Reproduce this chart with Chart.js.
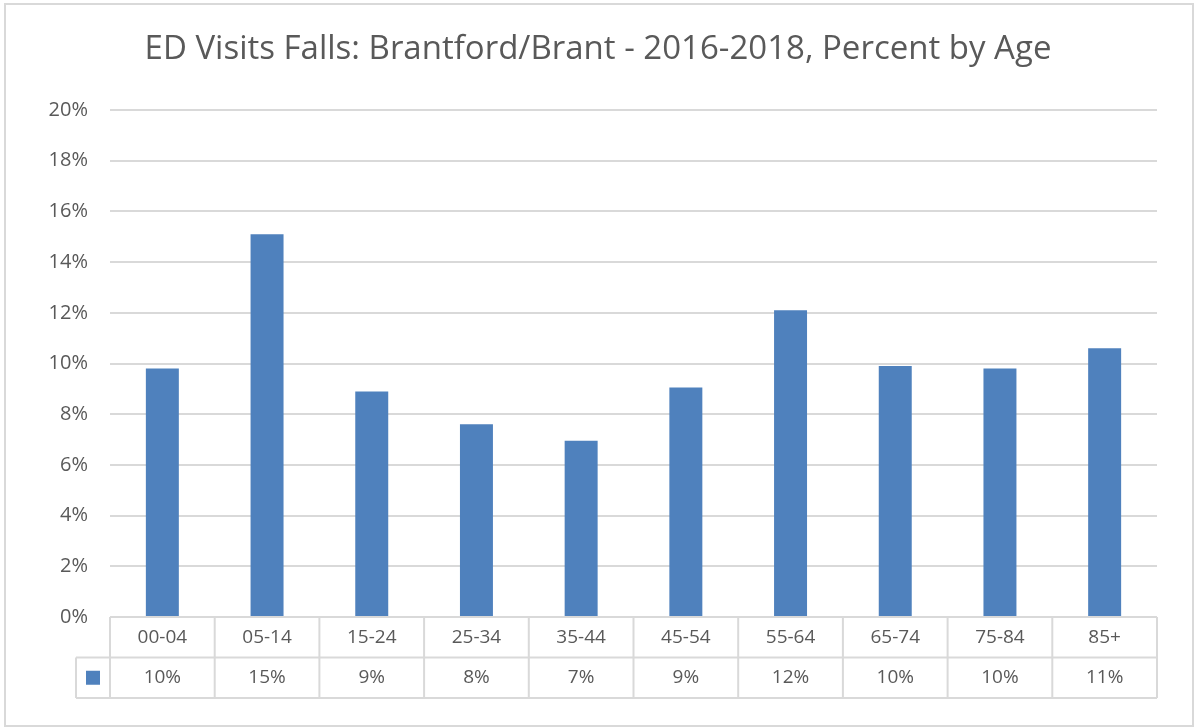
<!DOCTYPE html>
<html>
<head>
<meta charset="utf-8">
<script src="https://cdn.jsdelivr.net/npm/chart.js@4/dist/chart.umd.min.js"></script>
<style>
  html, body { margin: 0; padding: 0; background: #ffffff; }
  #wrap { width: 1196px; height: 727px; }
</style>
</head>
<body>
<div id="wrap"><canvas id="c" width="1196" height="727"></canvas></div>
<script>
const titleText = 'ED Visits Falls: Brantford/Brant - 2016-2018, Percent by Age';
const categories = ['00-04', '05-14', '15-24', '25-34', '35-44', '45-54', '55-64', '65-74', '75-84', '85+'];
const values = [9.8, 15.1, 8.9, 7.6, 6.95, 9.05, 12.1, 9.9, 9.8, 10.6];
const tableLabels = ['10%', '15%', '9%', '8%', '7%', '9%', '12%', '10%', '10%', '11%'];
const yTicks = [0, 2, 4, 6, 8, 10, 12, 14, 16, 18, 20];

const barColor = '#4F81BD';
const gridColor = '#D9D9D9';
const textColor = '#595959';
const FONT = "'Open Sans', 'DejaVu Sans', sans-serif";

const ROW_H = 40.5;
const KEY_LEFT = 76;

const tablePlugin = {
  id: 'dataTable',
  beforeDraw(chart) {
    const ctx = chart.ctx;
    ctx.save();
    ctx.strokeStyle = gridColor;
    ctx.lineWidth = 2;
    ctx.strokeRect(5, 4, 1188, 722);
    ctx.restore();
  },
  afterDraw(chart) {
    const ctx = chart.ctx;
    const ca = chart.chartArea;
    const top = ca.bottom;
    const mid = top + ROW_H;
    const bot = top + 2 * ROW_H;
    ctx.save();
    ctx.strokeStyle = gridColor;
    ctx.lineWidth = 2;
    ctx.beginPath();
    ctx.moveTo(ca.left, top); ctx.lineTo(ca.right, top);
    ctx.moveTo(KEY_LEFT, mid); ctx.lineTo(ca.right, mid);
    ctx.moveTo(KEY_LEFT, bot); ctx.lineTo(ca.right, bot);
    ctx.moveTo(KEY_LEFT, mid); ctx.lineTo(KEY_LEFT, bot);
    const n = categories.length;
    const w = (ca.right - ca.left) / n;
    for (let i = 0; i <= n; i++) {
      const xx = ca.left + i * w;
      ctx.moveTo(xx, top); ctx.lineTo(xx, bot);
    }
    ctx.stroke();
    // legend key
    const kx = (KEY_LEFT + ca.left) / 2;
    const ky = mid + ROW_H / 2;
    ctx.fillStyle = barColor;
    ctx.fillRect(kx - 7, ky - 7, 14, 14);
    ctx.restore();
  }
};

new Chart(document.getElementById('c'), {
  type: 'bar',
  data: {
    labels: categories.map((c, i) => [c, tableLabels[i]]),
    datasets: [{
      data: values,
      backgroundColor: barColor,
      borderWidth: 0,
      barPercentage: 0.315,
      categoryPercentage: 1.0
    }]
  },
  options: {
    responsive: false,
    animation: false,
    devicePixelRatio: 1,
    layout: { padding: { left: 5, right: 5, top: 0, bottom: 29 } },
    plugins: {
      legend: { display: false },
      tooltip: { enabled: false },
      title: {
        display: true,
        text: titleText,
        color: textColor,
        font: { family: FONT, size: 33, weight: 'normal', lineHeight: 1.2 },
        padding: { top: 30, bottom: 40.4 }
      }
    },
    scales: {
      x: {
        grid: { display: false, drawTicks: false },
        border: { display: false },
        ticks: {
          color: textColor,
          font: { family: FONT, size: 19, lineHeight: ROW_H / 19 },
          padding: 0,
          autoSkip: false,
          maxRotation: 0,
          minRotation: 0
        },
        afterFit(scale) { scale.height = 2 * ROW_H; }
      },
      y: {
        min: 0,
        max: 20,
        afterBuildTicks(scale) { scale.ticks = yTicks.map(v => ({ value: v })); },
        grid: { color: gridColor, lineWidth: 2, drawTicks: false },
        border: { display: false },
        ticks: {
          color: textColor,
          font: { family: FONT, size: 20 },
          padding: 22,
          callback: v => v + '%'
        },
        afterFit(scale) { scale.width = 105; }
      },
      yRightSpace: {
        position: 'right',
        display: true,
        min: 0,
        max: 20,
        grid: { display: false, drawTicks: false },
        border: { display: false },
        ticks: { display: false },
        afterFit(scale) { scale.width = 34; }
      }
    }
  },
  plugins: [tablePlugin]
});
</script>
</body>
</html>
